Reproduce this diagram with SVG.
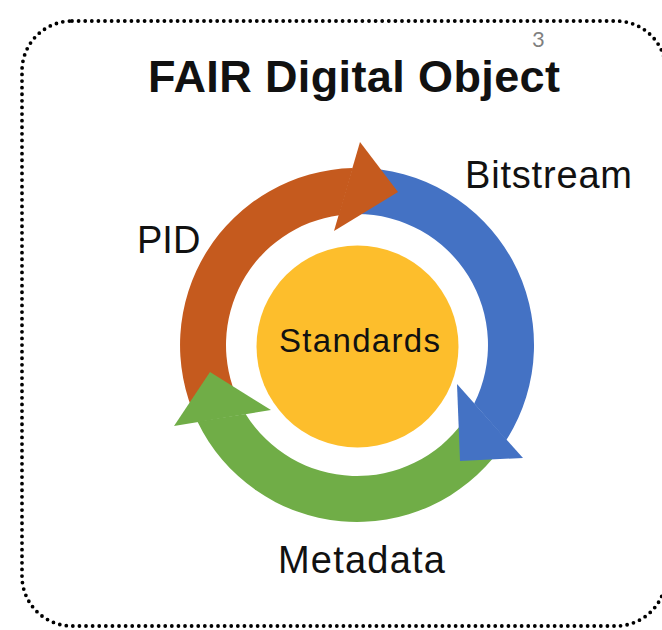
<svg xmlns="http://www.w3.org/2000/svg" width="662" height="630" viewBox="0 0 662 630">
  <style>
    .lbl { font-family: "Liberation Sans", Arial, sans-serif; fill: #111; }
    .orange { fill: #C55A1E; }
    .blue { fill: #4472C4; }
    .green { fill: #70AD47; }
  </style>
  <rect width="662" height="630" fill="#ffffff"/>
  <g id="frame">
    <rect x="22" y="21" width="644" height="605" rx="50" ry="50" fill="none" stroke="#000" stroke-width="3.8" stroke-dasharray="0 6.6" stroke-linecap="round"/>
  </g>
  <g id="slide-number">
    <text x="538.5" y="47" text-anchor="middle" font-family="Lato, 'Open Sans', sans-serif" font-size="22" fill="#808080">3</text>
  </g>
  <g id="title">
    <text class="lbl" x="148" y="92" font-size="45" font-weight="bold" textLength="412" fill="#000">FAIR Digital Object</text>
  </g>
  <g id="cycle">
    <g id="shafts">
      <path id="pid-shaft" class="orange" d="M 196.6 419.8 A 177 177 0 0 1 352.8 168.1 L 339.2 215.2 A 131 131 0 0 0 238.3 400.4 Z"/>
      <path id="bitstream-shaft" class="blue" d="M 357 168 A 177 177 0 0 1 506.3 440.1 L 474.2 403.5 A 131 131 0 0 0 357 214 Z"/>
      <path id="metadata-shaft" class="green" d="M 500.2 449 A 177 177 0 0 1 197.4 421.5 L 245.6 413.9 A 131 131 0 0 0 463 422 Z"/>
    </g>
    <g id="heads">
      <polygon id="pid-head" class="orange" points="360,142 398,192 334,231"/>
      <polygon id="bitstream-head" class="blue" points="457,384 460,461 523,458"/>
      <polygon id="metadata-head" class="green" points="210,372 174,426 271,410"/>
    </g>
  </g>
  <g id="standards">
    <circle cx="357.5" cy="346.5" r="101" fill="#FDBE2C"/>
    <text class="lbl" x="279" y="352" font-size="33" textLength="161">Standards</text>
  </g>
  <g id="pid-label">
    <text class="lbl" x="137" y="253" font-size="38">PID</text>
  </g>
  <g id="bitstream-label">
    <text class="lbl" x="465" y="188" font-size="38" textLength="167">Bitstream</text>
  </g>
  <g id="metadata-label">
    <text class="lbl" x="278" y="573" font-size="38" textLength="167">Metadata</text>
  </g>
</svg>
